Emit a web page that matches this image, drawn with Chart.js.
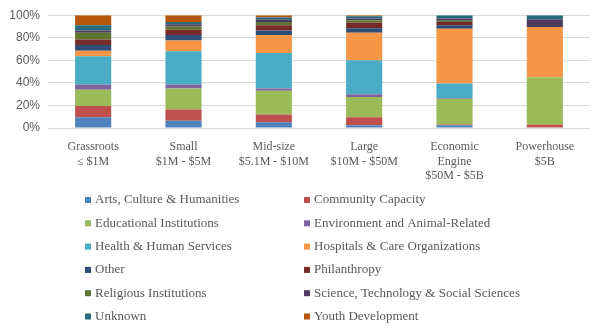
<!DOCTYPE html>
<html>
<head>
<meta charset="utf-8">
<script src="https://cdn.jsdelivr.net/npm/chart.js@4"></script>
<style>
  html, body { margin: 0; padding: 0; background: #fff; }
  #wrap { width: 600px; height: 336px; position: relative; }
</style>
</head>
<body>
<div id="wrap"><canvas id="sectorChart"></canvas></div>
<script>
const categories = [
    ['Grassroots', '≤ $1M'],
    ['Small', '$1M - $5M'],
    ['Mid-size', '$5.1M - $10M'],
    ['Large', '$10M - $50M'],
    ['Economic', 'Engine', '$50M - $5B'],
    ['Powerhouse', '$5B']
];

const sectors = [
    'Arts, Culture & Humanities',
    'Community Capacity',
    'Educational Institutions',
    'Environment and Animal-Related',
    'Health & Human Services',
    'Hospitals & Care Organizations',
    'Other',
    'Philanthropy',
    'Religious Institutions',
    'Science, Technology & Social Sciences',
    'Unknown',
    'Youth Development'
];

// share of each sector per budget size (%)
const arts        = [9.5, 6.5, 5, 2.5, 2.5, 0];
const community   = [10, 10, 7, 7, 0.5, 3];
const educational = [14.5, 18.5, 21, 18, 23, 42];
const environment = [4.5, 3.5, 2, 2.5, 0.5, 0];
const health      = [25, 29.5, 31.5, 30, 13, 0];
const hospitals   = [5, 9.5, 16, 24.5, 48.5, 44.5];
const other       = [5, 5, 4, 4, 3, 0];
const philanthropy = [5, 4.5, 4.5, 5, 3, 0];
const religious   = [6, 3, 3, 2, 1, 0];
const science     = [2, 2, 2, 1.5, 2, 7];
const unknown     = [4.5, 2, 2, 2, 3, 3.5];
const youth       = [9, 6, 2, 1, 0, 0];

const yTicks = [0, 20, 40, 60, 80, 100];

const seriesValues = [arts, community, educational, environment, health, hospitals,
    other, philanthropy, religious, science, unknown, youth];

const colors = ['#4F81BD', '#C0504D', '#9BBB59', '#8064A2', '#4BACC6', '#F79646',
    '#2C4D75', '#772C2A', '#5F7530', '#4D3B62', '#276A7C', '#B65708'];

// two-column legend under the chart
const twoColLegend = {
    id: 'twoColLegend',
    afterDraw(chart) {
        const c = chart.ctx;
        c.save();
        c.font = '13px "Liberation Serif"';
        c.textBaseline = 'middle';
        chart.data.datasets.forEach((ds, i) => {
            const col = i % 2;
            const row = Math.floor(i / 2);
            const x = col ? 307 : 88;
            const y = 200 + row * 23.3;
            c.fillStyle = ds.backgroundColor;
            c.fillRect(x - 3, y - 3, 6, 6);
            c.fillStyle = '#595959';
            c.fillText(ds.label, x + 7, y);
        });
        c.restore();
    }
};

const datasets = sectors.map((name, i) => ({
    label: name,
    data: seriesValues[i],
    backgroundColor: colors[i],
    barPercentage: 0.8,
    categoryPercentage: 0.5
}));

new Chart(document.getElementById('sectorChart'), {
    type: 'bar',
    data: { labels: categories, datasets: datasets },
    options: {
        responsive: true,
        maintainAspectRatio: false,
        animation: false,
        layout: { padding: { top: 5, right: 10, bottom: 148, left: 0 } },
        plugins: {
            legend: { display: false },
            tooltip: { enabled: false }
        },
        scales: {
            x: {
                stacked: true,
                grid: { display: false },
                border: { display: false },
                ticks: {
                    color: '#595959',
                    font: { family: 'Liberation Serif', size: 12 },
                    maxRotation: 0,
                    autoSkip: false,
                    padding: 4
                },
                afterFit: (scale) => { scale.height = 60; }
            },
            y: {
                stacked: true,
                min: 0,
                max: 100,
                afterBuildTicks: (scale) => { scale.ticks = yTicks.map(v => ({ value: v })); },
                grid: { color: '#d9d9d9', drawTicks: false },
                border: { display: false },
                ticks: {
                    color: '#595959',
                    font: { family: 'Liberation Sans', size: 12 },
                    padding: 8,
                    callback: (v) => v + '%'
                },
                afterFit: (scale) => { scale.width = 48; }
            }
        }
    },
    plugins: [twoColLegend]
});
</script>
</body>
</html>
